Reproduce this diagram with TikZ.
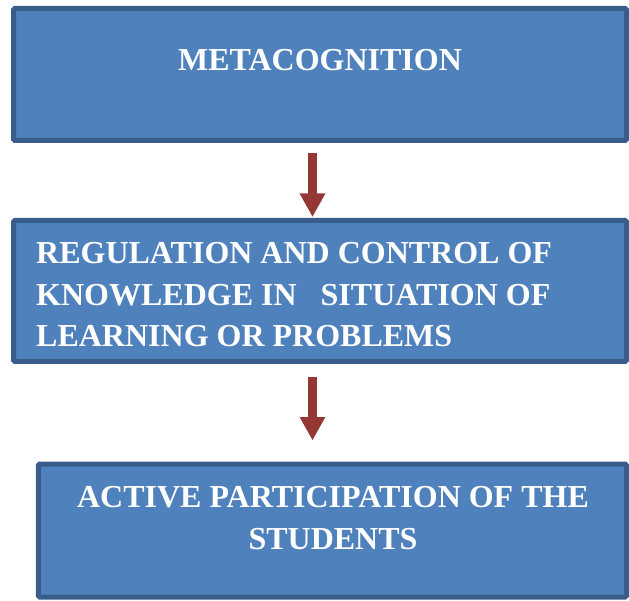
\documentclass[tikz,border=0pt]{standalone}
\usepackage{fontspec}
\setmainfont{Liberation Serif}
\usetikzlibrary{arrows.meta}
\definecolor{kastenblau}{HTML}{4F81BD}
\definecolor{randblau}{HTML}{385D8A}
\definecolor{pfeilrot}{HTML}{953735}
\begin{document}
\begin{tikzpicture}[x=1pt,y=-1pt,
  kasten/.style={draw=randblau,fill=kastenblau,line width=5pt,rounded corners=1.5pt,inner sep=0pt},
  schrift/.style={text=white,font=\bfseries\fontsize{32}{41.7}\selectfont,inner sep=0pt},
  pfeil/.style={-{Triangle[width=24pt,length=23.5pt]},line width=9pt,pfeilrot}]
\useasboundingbox (0,0) rectangle (629,601);
% Kaesten
\node[kasten,minimum width=613pt,minimum height=132pt] (meta) at (320,74.5) {};
\node[kasten,minimum width=613pt,minimum height=141pt] (regel) at (320,291) {};
\node[kasten,minimum width=588.3pt,minimum height=133pt] (aktiv) at (332.4,530.5) {};
% Beschriftungen (Grundlinie der letzten Zeile)
\node[schrift,anchor=base] at (320,71) {METACOGNITION};
\node[schrift,anchor=base west,align=left] at (36,347)
  {REGULATION AND CONTROL OF\\KNOWLEDGE IN~~~SITUATION OF\\LEARNING OR PROBLEMS};
\node[schrift,anchor=base,align=center] at (333,549)
  {ACTIVE PARTICIPATION OF THE\\STUDENTS};
% Pfeile
\coordinate (schaft) at ([xshift=-7.5pt]regel.south);
\draw[pfeil,shorten <=10pt,shorten >=1pt] ([xshift=-7.5pt]meta.south) -- ([xshift=-7.5pt]regel.north);
\draw[pfeil,shorten <=13pt,shorten >=21pt] (schaft) -- (schaft |- aktiv.north);
\end{tikzpicture}
\end{document}
